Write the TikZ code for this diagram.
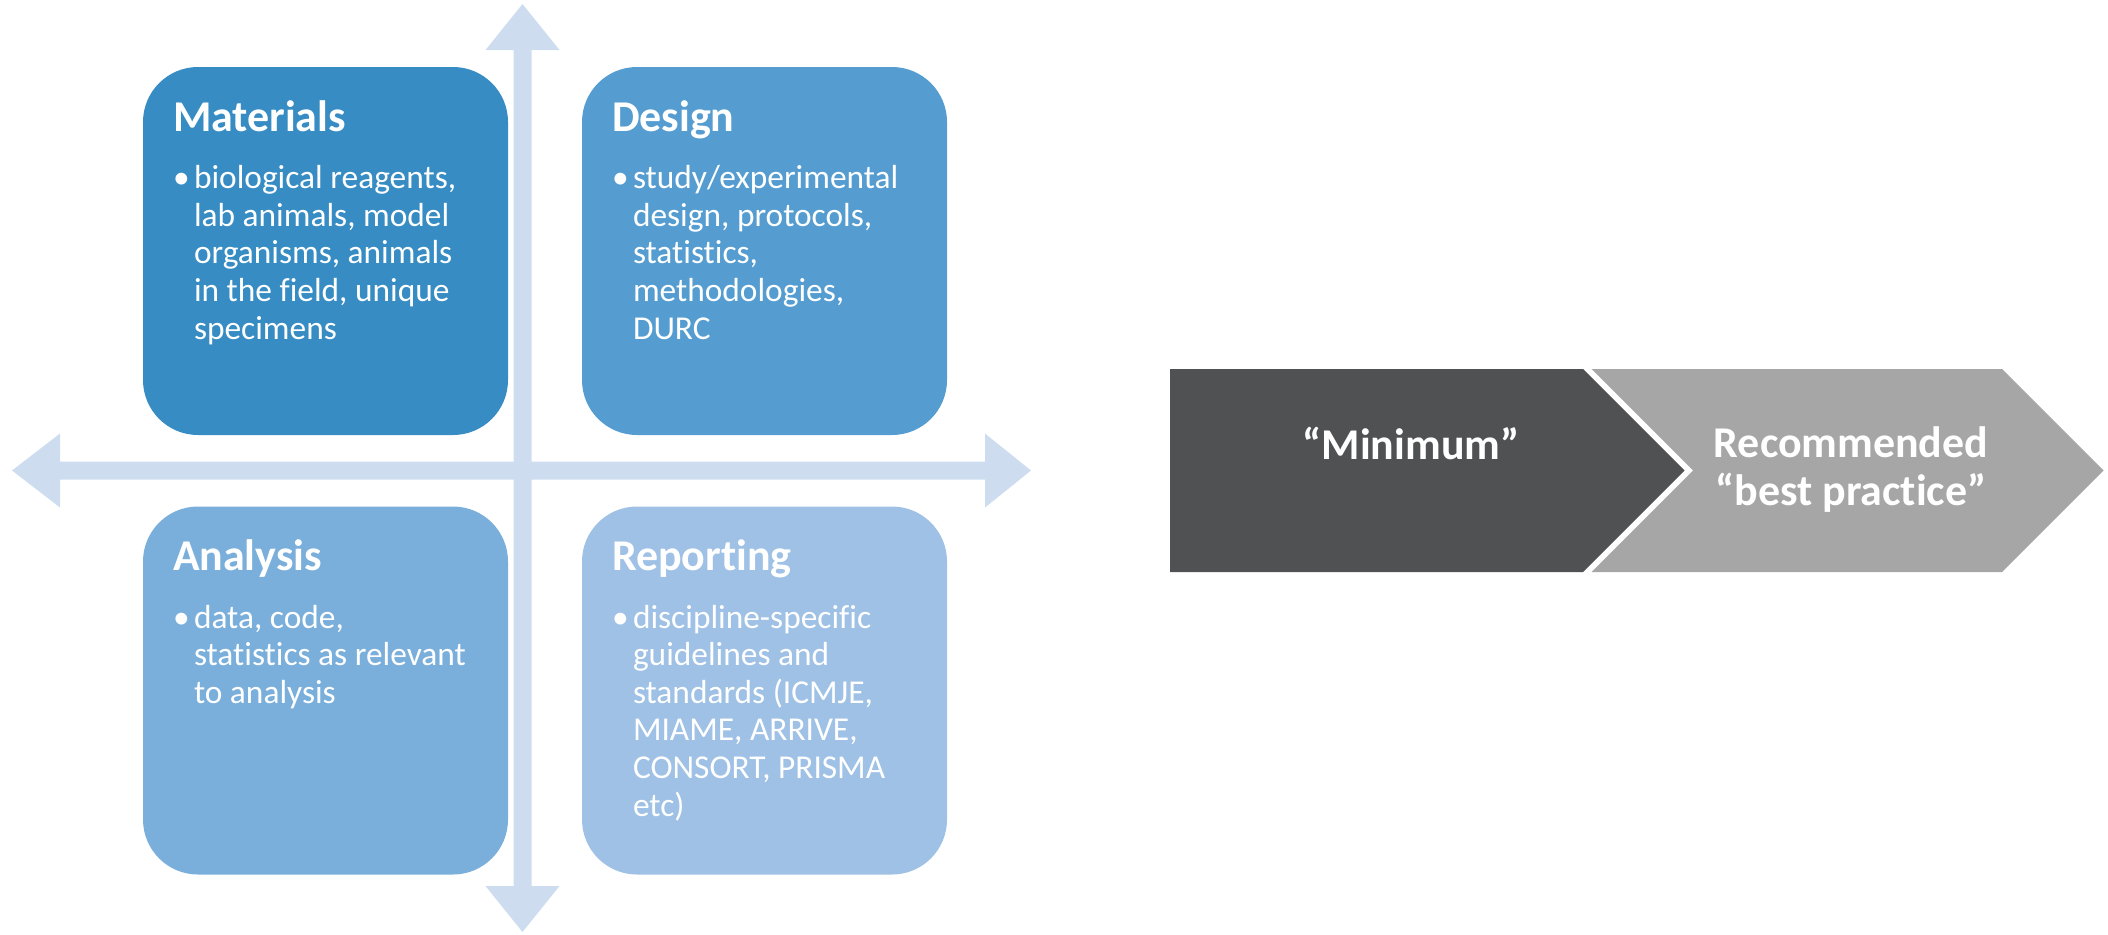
\documentclass[tikz,border=0pt]{standalone}
\usepackage{fontspec}
\setmainfont{Carlito}[Ligatures=NoCommon]

\tikzset{
  quad/.style={rounded corners=0.55cm, minimum width=3.65cm, minimum height=3.68cm, inner sep=0pt},
  qtitle/.style={anchor=base west, inner sep=0pt, text=white, font=\fontsize{12.5}{15}\selectfont\bfseries},
  qbody/.style={anchor=base west, inner sep=0pt, align=left, text=white, font=\fontsize{9.5}{10.7}\selectfont},
  chevtext/.style={anchor=base, inner sep=0pt, align=center, text=white, font=\fontsize{12.5}{13.5}\selectfont\bfseries}
}

\begin{document}
\begin{tikzpicture}[thick]
\useasboundingbox (0,0) rectangle (21.08,9.34);

\definecolor{axisblue}{RGB}{205,221,239}
\definecolor{matblue}{RGB}{54,140,195}
\definecolor{desblue}{RGB}{85,157,209}
\definecolor{anablue}{RGB}{122,175,219}
\definecolor{repblue}{RGB}{158,193,229}
\definecolor{mingrey}{RGB}{80,81,83}
\definecolor{bestgrey}{RGB}{165,166,165}

% Vertical double arrow
\fill[axisblue] (5.135,0.48) -- (5.135,8.84) -- (4.855,8.84) -- (5.225,9.30) -- (5.595,8.84)
  -- (5.315,8.84) -- (5.315,0.48) -- (5.595,0.48) -- (5.225,0.02) -- (4.855,0.48) -- cycle;
% Horizontal double arrow
\fill[axisblue] (0.60,4.545) -- (9.85,4.545) -- (9.85,4.265) -- (10.31,4.635) -- (9.85,5.005)
  -- (9.85,4.725) -- (0.60,4.725) -- (0.60,5.005) -- (0.12,4.635) -- (0.60,4.265) -- cycle;

\node[quad, fill=matblue] (mat) at (3.255,6.83) {};
\node[quad, fill=desblue] (des) at (7.645,6.83) {};
\node[quad, fill=anablue] (ana) at (3.255,2.435) {};
\node[quad, fill=repblue] (rep) at (7.645,2.435) {};

\node[qtitle, shift={(0.30,-0.66)}] (mat_title) at (mat.north west) {Materials};
\node[qtitle, shift={(0.30,-0.66)}] (des_title) at (des.north west) {Design};
\node[qtitle, shift={(0.30,-0.65)}] (ana_title) at (ana.north west) {Analysis};
\node[qtitle, shift={(0.30,-0.65)}] (rep_title) at (rep.north west) {Reporting};

\node[qbody, shift={(0.30,-1.23)}] (mat_dot) at (mat.north west) {\textbullet};
\node[qbody, shift={(0.30,-1.23)}] (des_dot) at (des.north west) {\textbullet};
\node[qbody, shift={(0.30,-1.23)}] (ana_dot) at (ana.north west) {\textbullet};
\node[qbody, shift={(0.30,-1.23)}] (rep_dot) at (rep.north west) {\textbullet};

% body text: base anchor sits on the last line
\node[qbody, shift={(0.51,-2.734)}] (mat_text) at (mat.north west)
{biological reagents,\\lab animals, model\\organisms, animals\\in the field, unique\\specimens};
\node[qbody, shift={(0.51,-2.734)}] (des_text) at (des.north west)
{study/experimental\\design, protocols,\\statistics,\\methodologies,\\DURC};
\node[qbody, shift={(0.51,-1.982)}] (ana_text) at (ana.north west)
{data, code,\\statistics as relevant\\to analysis};
\node[qbody, shift={(0.51,-3.11)}] (rep_text) at (rep.north west)
{discipline-specific\\guidelines and\\standards (ICMJE,\\MIAME, ARRIVE,\\CONSORT, PRISMA\\etc)};

% Chevrons
\fill[mingrey] (11.70,5.65) -- (15.83,5.65) -- (16.845,4.635) -- (15.83,3.62) -- (11.70,3.62) -- cycle;
\fill[bestgrey] (15.915,5.65) -- (20.02,5.65) -- (21.035,4.635) -- (20.02,3.62) -- (15.915,3.62)
  -- (16.93,4.635) -- cycle;

\node[chevtext] (min_text) at (14.11,4.75) {“Minimum”};
\node[chevtext] (best_text) at (18.51,4.29) {Recommended\\“best practice”};

\end{tikzpicture}
\end{document}
